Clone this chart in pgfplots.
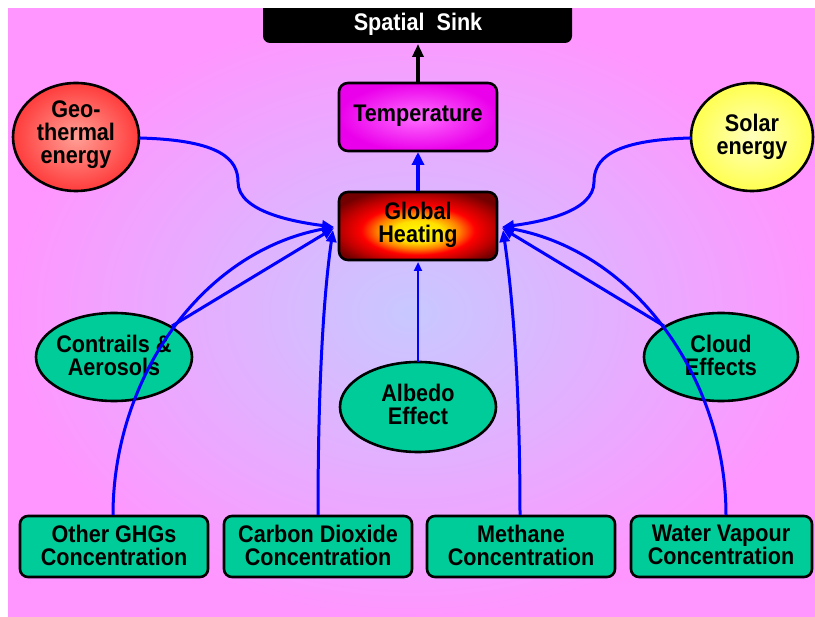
\documentclass[border=0pt]{standalone}
\usepackage{fontspec}
\setmainfont{Liberation Sans}[FakeStretch=0.9]
\usepackage{pgfplots}
\pgfplotsset{compat=1.18}
\usetikzlibrary{arrows.meta}
\definecolor{pinkbg}{RGB}{255,150,255}
\definecolor{lav}{RGB}{200,200,255}
\definecolor{grn}{RGB}{0,204,153}
\definecolor{magA}{RGB}{255,110,255}
\definecolor{magB}{RGB}{235,0,235}
\definecolor{geoA}{RGB}{255,160,150}
\definecolor{geoB}{RGB}{255,60,60}
\definecolor{solA}{RGB}{255,255,190}
\definecolor{solB}{RGB}{255,255,80}
\pgfdeclareradialshading{heat}{\pgfpoint{0bp}{-5bp}}{color(0bp)=(yellow); color(8bp)=(yellow!75!orange); color(13bp)=(orange); color(18bp)=(red); color(24bp)=(red!75!black); color(30bp)=(red!45!black); color(50bp)=(red!40!black)}
\tikzset{lbl/.style={align=center, font=\fontsize{24}{23}\selectfont\bfseries, inner sep=0pt, text=black},
 bl/.style={blue, line width=3pt, -{Triangle[length=12pt,width=10pt]}},
 ob/.style={draw=black, line width=2.6pt}}
\begin{document}
\begin{tikzpicture}
\begin{axis}[hide axis, scale only axis, width=815pt, height=617pt,
  xmin=0, xmax=815, ymin=0, ymax=617, y dir=reverse, clip=false]
\fill[white] (0,0) rectangle (815,617);
\shade[inner color=lav, outer color=pinkbg] (8,8) rectangle (815,617);
% Spatial sink
\fill[black, rounded corners=7pt] (263,0) rectangle (572,43);
\fill[white] (0,0) rectangle (815,8);
\node[lbl, text=white] at (418,24) {Spatial\ \ Sink};
% Temperature
\shade[ob, inner color=magA, outer color=magB, rounded corners=9pt] (339,83) rectangle (497,151);
\node[lbl] at (418,116) {Temperature};
% Global heating
\shade[ob, shading=heat, rounded corners=9pt] (339,192) rectangle (497,260);
\node[lbl] at (418,225) {Global\\Heating};
% Geothermal
\shade[ob, inner color=geoA, outer color=geoB] (76,137) ellipse [x radius=63pt, y radius=54pt];
\node[lbl] at (76,135) {Geo-\\thermal\\energy};
% Solar
\shade[ob, inner color=solA, outer color=solB] (752,137) ellipse [x radius=61pt, y radius=54pt];
\node[lbl] at (752,137) {Solar\\energy};
% Ellipses
\draw[ob, fill=grn] (114,357) ellipse [x radius=78pt, y radius=44pt];
\node[lbl] at (114,355) {Contrails \&\\Aerosols};
\draw[ob, fill=grn] (721,357) ellipse [x radius=77pt, y radius=44pt];
\node[lbl] at (721,355) {Cloud\\Effects};
\draw[ob, fill=grn] (418,407) ellipse [x radius=78pt, y radius=45pt];
\node[lbl] at (418,404) {Albedo\\Effect};
% bottom boxes
\draw[ob, fill=grn, rounded corners=8pt] (20,516) rectangle (208,577);
\node[lbl] at (114,545) {Other GHGs\\Concentration};
\draw[ob, fill=grn, rounded corners=8pt] (224,516) rectangle (412,577);
\node[lbl] at (318,545) {Carbon Dioxide\\Concentration};
\draw[ob, fill=grn, rounded corners=8pt] (427,516) rectangle (615,577);
\node[lbl] at (521,545) {Methane\\Concentration};
\draw[ob, fill=grn, rounded corners=8pt] (631,516) rectangle (812,577);
\node[lbl] at (721,545) {Water Vapour\\Concentration};
% connections
\draw[black, line width=3.2pt, -{Triangle[length=13pt,width=11pt]}] (418,82) -- (418,44);
\draw[blue, line width=3.6pt, -{Triangle[length=13pt,width=12pt]}] (418,191) -- (418,152);
\draw[blue, line width=2.4pt, -{Triangle[length=9pt,width=8pt]}] (418,362) -- (418,262);
\draw[bl] (139,138) .. controls (222,140) and (238,160) .. (238,182) .. controls (238,212) and (295,222) .. (334,227);
\draw[bl] (691,138) .. controls (610,140) and (594,160) .. (594,182) .. controls (594,212) and (540,222) .. (502,227);
\draw[bl] (172,326) -- (334,228);
\draw[bl] (113,515) .. controls (113,380) and (200,252) .. (334,227);
\draw[bl] (318,515) .. controls (318,380) and (324,292) .. (333,230);
\draw[bl] (520,515) .. controls (520,380) and (512,292) .. (503,230);
\draw[bl] (664,326) -- (502,228);
\draw[bl] (726,515) .. controls (726,380) and (636,252) .. (502,227);
\end{axis}
\end{tikzpicture}
\end{document}
